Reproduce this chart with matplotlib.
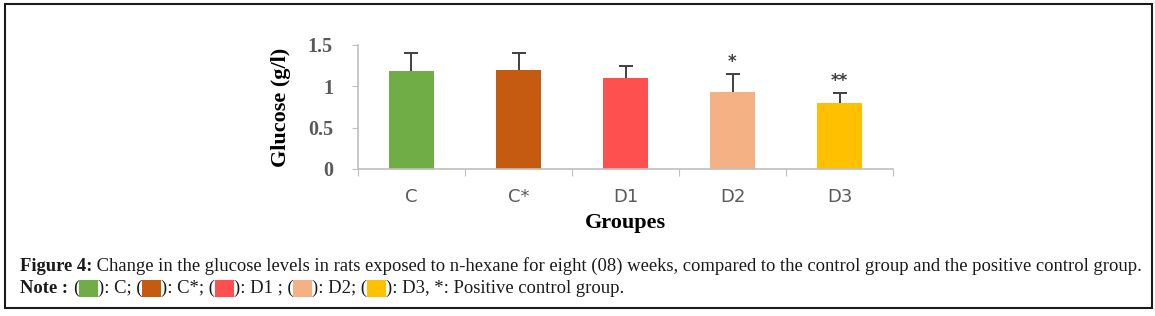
import matplotlib.pyplot as plt
import numpy as np
from matplotlib.patches import Rectangle

# Glucose data
categories = ['C', 'C*', 'D1', 'D2', 'D3']
means = [1.18, 1.20, 1.10, 0.93, 0.80]
errors = [0.22, 0.20, 0.15, 0.22, 0.12]
signif = ['', '', '', '*', '**']
colors = ['#70AD47', '#C55A11', '#FF5050', '#F4B183', '#FFC000']
yticks = [0, 0.5, 1, 1.5]

W, H = 1155, 316
fig = plt.figure(figsize=(W / 100, H / 100), dpi=100)
fig.patch.set_facecolor('white')

# outer frame
fig.add_artist(Rectangle((5 / W, 1 - 308 / H), 1147 / W, 304 / H, transform=fig.transFigure,
                         fill=False, edgecolor='#1a1a1a', linewidth=1.5))

ax = fig.add_axes([358 / W, 1 - 169 / H, (893 - 358) / W, (169 - 45) / H])
x = np.arange(len(categories))
ax.bar(x, means, width=0.42, color=colors, zorder=2)

# error bars (upper half only)
tops = np.array(means) + np.array(errors)
ax.vlines(x, means, tops, color='#404040', linewidth=1.4, zorder=3)
ax.scatter(x, tops, marker='_', s=90, color='#404040', linewidths=1.4, zorder=3)
for xi, t, s in zip(x, tops, signif):
    if s:
        ax.text(xi, t + 0.03, s, ha='center', va='bottom', fontsize=12,
                color='#404040', family='DejaVu Sans', fontweight='bold')

ax.set_xlim(-0.5, len(categories) - 0.5)
ax.set_ylim(0, 1.5)
for side in ['top', 'right']:
    ax.spines[side].set_visible(False)
for side in ['left', 'bottom']:
    ax.spines[side].set_color('#BFBFBF')
    ax.spines[side].set_linewidth(1.2)

ax.set_yticks(yticks)
ax.set_yticklabels(['0', '0.5', '1', '1.5'], family='Liberation Serif', fontsize=14.5,
                   fontweight='bold', color='#595959')
ax.tick_params(axis='y', length=4, color='#BFBFBF', pad=14)
ax.set_xticks(np.arange(-0.5, len(categories)), minor=False)
ax.set_xticklabels([])
ax.set_xticks(x, minor=True)
ax.set_xticklabels(categories, minor=True, family='DejaVu Sans', fontsize=13, color='#595959')
ax.tick_params(axis='x', which='major', length=5, color='#BFBFBF')
ax.tick_params(axis='x', which='minor', length=0, pad=14)

ax.set_ylabel('Glucose (g/l)', family='Liberation Serif', fontweight='bold', fontsize=16, labelpad=12)
ax.set_xlabel('Groupes', family='Liberation Serif', fontweight='bold', fontsize=16, labelpad=5)


def chain(pieces, x0, y0, size=13.4):
    # place text pieces one after another on a line
    prev = None
    for kind, val in pieces:
        kw = dict(fontsize=size, family='Liberation Serif', color='#1a1a1a',
                  ha='left', va='bottom')
        if kind == 'b':
            kw['fontweight'] = 'bold'
        txt = val
        if kind == 'sw':
            txt = '\u2002\u2002'
            kw['bbox'] = dict(boxstyle='square,pad=0', facecolor=val, edgecolor='none')
        if prev is None:
            prev = fig.text(x0, y0, txt, **kw)
        else:
            prev = fig.add_artist(plt.Annotation(txt, xy=(1, 0), xycoords=prev,
                                                 annotation_clip=False, **kw))
    return prev


chain([('b', 'Figure 4:'),
       ('r', ' Change in the glucose levels in rats exposed to n-hexane for eight (08) weeks, '
             'compared to the control group and the positive control group.')],
      20 / W, 1 - 275 / H)
chain([('b', 'Note : '), ('r', '('), ('sw', colors[0]), ('r', '): C; ('), ('sw', colors[1]),
       ('r', '): C*; ('), ('sw', colors[2]), ('r', '): D1 ; ('), ('sw', colors[3]),
       ('r', '): D2; ('), ('sw', colors[4]), ('r', '): D3, *: Positive control group.')],
      20 / W, 1 - 297 / H)

plt.savefig('out.png', dpi=100)
